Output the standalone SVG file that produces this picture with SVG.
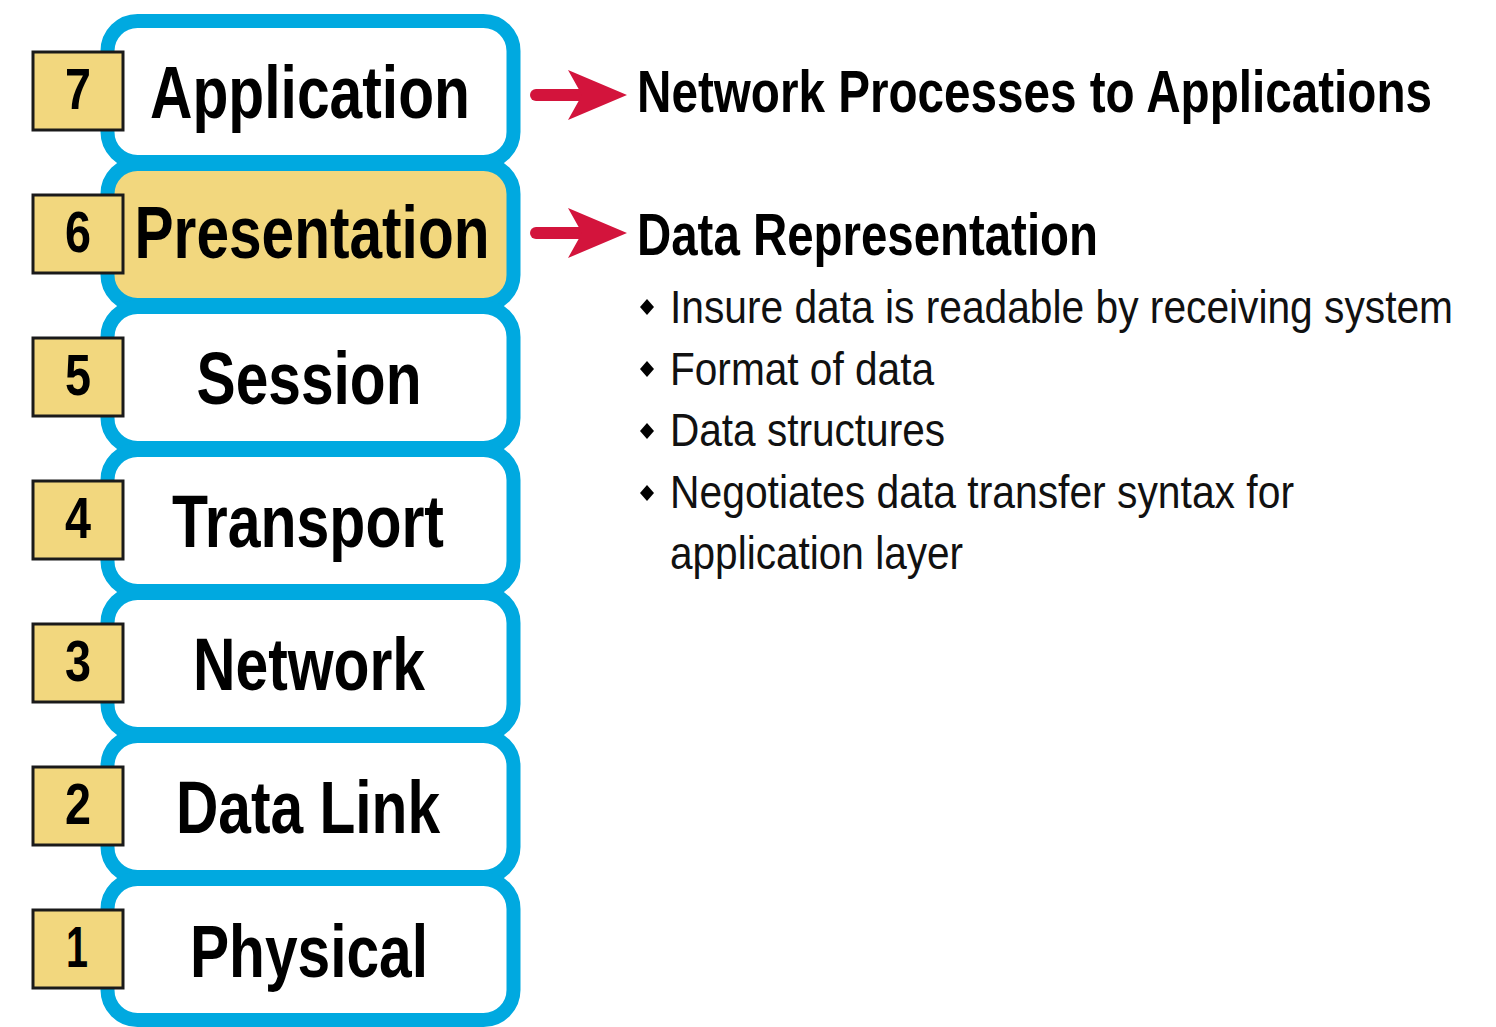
<svg xmlns="http://www.w3.org/2000/svg" width="1496" height="1027" viewBox="0 0 1496 1027">
<style>
.layer{fill:#ffffff;stroke:#00a9e0;stroke-width:14}
.hl{fill:#f2d77e}
.num{fill:#f2d77e;stroke:#1a1a1a;stroke-width:3}
.numt{font-family:"Liberation Sans Narrow","Liberation Sans",Arial,sans-serif;font-weight:bold;font-size:58px;fill:#000;text-anchor:middle}
.name{font-family:"Liberation Sans Narrow","Liberation Sans",Arial,sans-serif;font-weight:bold;font-size:74px;fill:#000;text-anchor:middle}
.head{font-family:"Liberation Sans Narrow","Liberation Sans",Arial,sans-serif;font-weight:bold;font-size:60px;fill:#000}
.body{font-family:"Liberation Sans Narrow","Liberation Sans",Arial,sans-serif;font-size:46px;fill:#111}
.bul{fill:#000}
.arr{stroke:#d3143c;stroke-width:12;stroke-linecap:round;fill:none}
</style>
<defs>
<marker id="ah" markerUnits="userSpaceOnUse" markerWidth="60" markerHeight="52" viewBox="0 0 60 52" refX="32" refY="26" orient="auto">
<path d="M0,1 L59,26 L0,51 L14,26 Z" fill="#d3143c"/>
</marker>
</defs>
<rect width="1496" height="1027" fill="#ffffff"/>

<g id="layer7">
<rect class="layer" x="107.5" y="21" width="406" height="141" rx="30"/>
<rect class="num" x="33" y="52" width="90" height="78"/>
<text class="numt" x="78" y="109" textLength="26" lengthAdjust="spacingAndGlyphs">7</text>
<text class="name" x="310" y="118" textLength="320" lengthAdjust="spacingAndGlyphs">Application</text>
</g>
<g id="layer6">
<rect class="layer hl" x="107.5" y="164" width="406" height="141" rx="30"/>
<rect class="num" x="33" y="195" width="90" height="78"/>
<text class="numt" x="78" y="252" textLength="26" lengthAdjust="spacingAndGlyphs">6</text>
<text class="name" x="312" y="258" textLength="355" lengthAdjust="spacingAndGlyphs">Presentation</text>
</g>
<g id="layer5">
<rect class="layer" x="107.5" y="307" width="406" height="141" rx="30"/>
<rect class="num" x="33" y="338" width="90" height="78"/>
<text class="numt" x="78" y="395" textLength="26" lengthAdjust="spacingAndGlyphs">5</text>
<text class="name" x="309" y="404" textLength="225" lengthAdjust="spacingAndGlyphs">Session</text>
</g>
<g id="layer4">
<rect class="layer" x="107.5" y="450" width="406" height="141" rx="30"/>
<rect class="num" x="33" y="481" width="90" height="78"/>
<text class="numt" x="78" y="538" textLength="26" lengthAdjust="spacingAndGlyphs">4</text>
<text class="name" x="308" y="547" textLength="272" lengthAdjust="spacingAndGlyphs">Transport</text>
</g>
<g id="layer3">
<rect class="layer" x="107.5" y="593" width="406" height="141" rx="30"/>
<rect class="num" x="33" y="624" width="90" height="78"/>
<text class="numt" x="78" y="681" textLength="26" lengthAdjust="spacingAndGlyphs">3</text>
<text class="name" x="309" y="690" textLength="232" lengthAdjust="spacingAndGlyphs">Network</text>
</g>
<g id="layer2">
<rect class="layer" x="107.5" y="736" width="406" height="141" rx="30"/>
<rect class="num" x="33" y="767" width="90" height="78"/>
<text class="numt" x="78" y="824" textLength="26" lengthAdjust="spacingAndGlyphs">2</text>
<text class="name" x="308" y="833" textLength="264" lengthAdjust="spacingAndGlyphs">Data Link</text>
</g>
<g id="layer1">
<rect class="layer" x="107.5" y="879" width="406" height="141" rx="30"/>
<rect class="num" x="33" y="910" width="90" height="78"/>
<text class="numt" x="77" y="967" textLength="22" lengthAdjust="spacingAndGlyphs">1</text>
<text class="name" x="309" y="977" textLength="238" lengthAdjust="spacingAndGlyphs">Physical</text>
</g>

<g id="connectors">
<line class="arr" x1="536" y1="95" x2="600" y2="95" marker-end="url(#ah)"/>
<line class="arr" x1="536" y1="233" x2="600" y2="233" marker-end="url(#ah)"/>
</g>

<g id="desc7">
<text class="head" x="0" y="0" transform="translate(637,112) scale(0.8,1)" textLength="993.75" lengthAdjust="spacingAndGlyphs">Network Processes to Applications</text>
</g>
<g id="desc6">
<text class="head" x="0" y="0" transform="translate(637,255) scale(0.8,1)" textLength="576.25" lengthAdjust="spacingAndGlyphs">Data Representation</text>
<path class="bul" d="M647,299 L654,307 L647,315 L640,307 Z"/>
<text class="body" x="0" y="0" transform="translate(670,323) scale(0.88,1)" textLength="889.8" lengthAdjust="spacingAndGlyphs">Insure data is readable by receiving system</text>
<path class="bul" d="M647,361 L654,369 L647,377 L640,369 Z"/>
<text class="body" x="0" y="0" transform="translate(670,385) scale(0.88,1)" textLength="300" lengthAdjust="spacingAndGlyphs">Format of data</text>
<path class="bul" d="M647,423 L654,431 L647,439 L640,431 Z"/>
<text class="body" x="0" y="0" transform="translate(670,446) scale(0.88,1)" textLength="312.5" lengthAdjust="spacingAndGlyphs">Data structures</text>
<path class="bul" d="M647,485 L654,493 L647,501 L640,493 Z"/>
<text class="body" x="0" y="0" transform="translate(670,508) scale(0.88,1)" textLength="709.1" lengthAdjust="spacingAndGlyphs">Negotiates data transfer syntax for</text>
<text class="body" x="0" y="0" transform="translate(670,569) scale(0.88,1)" textLength="333" lengthAdjust="spacingAndGlyphs">application layer</text>
</g>
</svg>
